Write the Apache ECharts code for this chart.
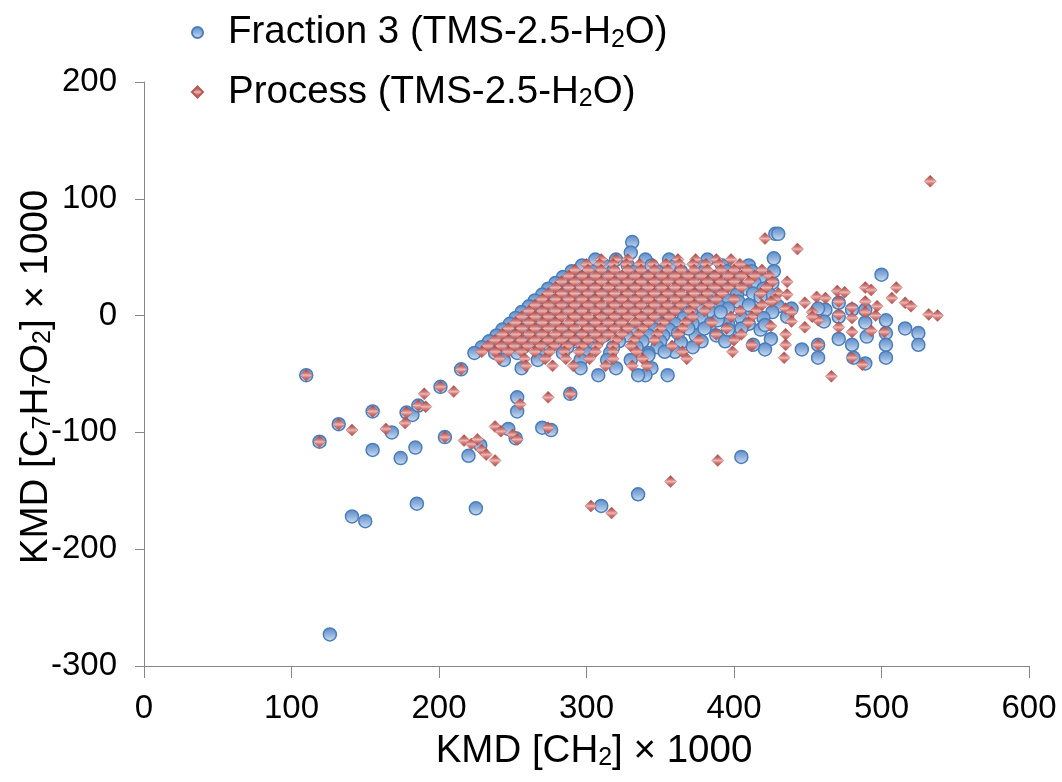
<!DOCTYPE html>
<html>
<head>
<meta charset="utf-8">
<script src="https://cdn.jsdelivr.net/npm/echarts@6/dist/echarts.min.js"></script>
<style>html,body{margin:0;padding:0;background:#fff}#c{width:1062px;height:782px}</style>
</head>
<body>
<div id="c"></div>
<script>
// ---- Data ----
const xTicks = [0, 100, 200, 300, 400, 500, 600];
const yTicks = [-300, -200, -100, 0, 100, 200];
const seriesNames = ['Fraction 3 (TMS-2.5-H2O)', 'Process (TMS-2.5-H2O)'];

// Fraction 3: dense cloud, rows of [KMD C7H7O2, [KMD CH2 values]]
const fractionRows = [
  [48, [306, 320, 340, 356, 382]],
  [43, [297, 312, 328, 344, 360, 376, 392, 410]],
  [38, [290, 304, 318, 333, 348, 364, 380, 395, 412]],
  [33, [284, 298, 312, 327, 342, 357, 372, 387, 402, 418]],
  [28, [279, 293, 307, 322, 337, 352, 367, 382, 397, 414, 426]],
  [23, [274, 288, 302, 317, 332, 347, 362, 377, 392, 408, 420]],
  [18, [270, 284, 298, 312, 327, 342, 357, 372, 387, 402, 424]],
  [13, [265, 279, 293, 307, 322, 337, 352, 367, 382, 396, 418]],
  [8, [261, 275, 289, 303, 318, 333, 348, 362, 376, 390, 430]],
  [3, [256, 270, 284, 298, 313, 328, 343, 357, 371, 384, 412, 426]],
  [-2, [252, 266, 280, 294, 309, 324, 339, 353, 366, 378, 405, 420]],
  [-7, [248, 262, 276, 290, 305, 320, 335, 349, 360, 372, 384, 396, 410]],
  [-12, [243, 257, 271, 286, 301, 316, 331, 346, 356, 418]],
  [-17, [239, 253, 267, 282, 297, 312, 327, 342, 352, 374, 388, 400]],
  [-22, [234, 248, 262, 277, 292, 307, 322, 338, 350, 378, 394]],
  [-27, [229, 243, 257, 272, 287, 302, 318, 334, 348, 372]],
  [-32, [224, 238, 253, 268, 284, 300, 316, 342]],
  [-38, [244, 267, 296, 314, 330]],
  [-45, [256, 296, 320, 344]],
  [-51, [308, 340]]
];
// Fraction 3: individual points [KMD CH2, KMD C7H7O2]
const fractionPoints = [
  [331, 63], [330, 54], [428, 70], [430, 70], [500, 35], [427, 49], [427, 38],
  [503, -4], [503, -15], [503, -25], [503, -36], [516, -11], [525, -15], [525, -25],
  [490, -18], [480, -25], [471, -20], [457, -25], [446, -29], [425, -20], [421, -29],
  [413, -25], [355, -51], [335, -51], [489, -41], [481, -36], [457, -36],
  [462, 5], [471, 11], [480, 5], [489, 5], [457, 6], [439, 6], [436, -1], [471, -1],
  [461, -5], [489, -6], [421, -8], [405, -11], [396, -12], [389, -4], [380, -11],
  [369, -11], [362, -15], [364, -23], [360, -31], [353, -31], [342, -34],
  [413, 19], [418, 16], [403, 12], [410, 9], [396, 6], [391, 3],
  [110, -51], [119, -108], [132, -93], [141, -172], [150, -176], [126, -273],
  [155, -82], [155, -115], [168, -100], [174, -122], [178, -83], [182, -85],
  [184, -113], [185, -161], [186, -77], [201, -61], [204, -104], [215, -46],
  [220, -120], [225, -165], [228, -111], [247, -97], [252, -105], [253, -70],
  [253, -82], [270, -96], [276, -98], [289, -67], [310, -163], [335, -153], [405, -121]
];

// Process: dense cloud rows
const processRows = [
  [48, [310, 320, 328, 362, 374, 388, 398]],
  [44, [300, 309, 318, 327, 336, 345, 354, 363, 372, 381, 390, 404]],
  [39, [292, 301, 310, 319, 328, 337, 346, 355, 364, 373, 382, 391, 400, 409, 419]],
  [34, [288, 297, 306, 315, 324, 333, 342, 351, 360, 369, 378, 387, 396, 405, 414, 424]],
  [29, [283, 292, 301, 310, 319, 328, 337, 346, 355, 364, 373, 382, 391, 400, 410, 426]],
  [24, [279, 288, 297, 306, 315, 324, 333, 342, 351, 360, 369, 378, 387, 396, 405, 422]],
  [19, [274, 283, 292, 301, 310, 319, 328, 337, 346, 355, 364, 373, 382, 392, 418, 430]],
  [14, [270, 279, 288, 297, 306, 315, 324, 333, 342, 351, 360, 369, 378, 388, 400, 428]],
  [9, [265, 274, 283, 292, 301, 310, 319, 328, 337, 346, 355, 364, 373, 383, 419]],
  [4, [261, 270, 279, 288, 297, 306, 315, 324, 333, 342, 351, 360, 370, 380, 404, 415]],
  [-1, [256, 265, 274, 283, 292, 301, 310, 319, 328, 337, 346, 356, 372, 398, 412]],
  [-6, [252, 261, 270, 279, 288, 297, 306, 315, 324, 333, 342, 352, 367, 385, 410]],
  [-11, [247, 256, 265, 274, 283, 292, 301, 310, 319, 328, 338, 350, 365, 395]],
  [-16, [243, 252, 261, 270, 279, 288, 297, 306, 315, 324, 335, 348, 362, 388, 405]],
  [-21, [238, 247, 256, 265, 274, 283, 292, 301, 310, 320, 332, 346, 376, 400]],
  [-26, [233, 242, 251, 260, 269, 278, 287, 297, 307, 318, 330, 358, 412]],
  [-31, [229, 238, 247, 256, 265, 275, 285, 295, 306, 318, 334, 365, 399]],
  [-37, [241, 258, 272, 286, 302, 318, 338, 368]],
  [-43, [259, 277, 291, 313, 331, 341]]
];
// Process: individual points
const processPoints = [
  [421, 66], [443, 57], [533, 115], [436, 29], [436, 18], [425, 12], [448, 11],
  [456, 16], [462, 15], [470, 21], [475, 20], [480, 7], [489, 24], [493, 22],
  [489, 12], [497, 8], [507, 15], [510, 24], [516, 11], [520, 8], [532, 1], [538, 0],
  [471, 12], [435, 6], [439, 3], [453, 3], [457, -4], [471, -10], [480, -14],
  [493, -13], [502, -14], [448, -10], [439, -5], [425, -9], [435, -16], [453, -1],
  [471, 1], [480, -2], [489, 3], [496, 0], [466, -52], [434, -36], [487, -42],
  [480, -36], [435, -25], [457, -25], [412, -25],
  [110, -51], [119, -108], [132, -93], [141, -98], [155, -82], [164, -97], [177, -92],
  [178, -83], [186, -77], [190, -67], [191, -78], [201, -61], [204, -104], [210, -65],
  [215, -46], [217, -107], [222, -110], [226, -106], [229, -115], [232, -119],
  [238, -124], [238, -95], [242, -99], [250, -102], [253, -106], [255, -76],
  [274, -96], [274, -70], [289, -67], [303, -163], [317, -169], [357, -142], [389, -124]
];

// ---- Build series data ----
function flatten(rows, pts) {
  const out = [];
  rows.forEach(function (r) { r[1].forEach(function (x) { out.push([x, r[0]]); }); });
  pts.forEach(function (p) { out.push(p); });
  return out;
}
const fractionData = flatten(fractionRows, fractionPoints);
const processData = flatten(processRows, processPoints);

const FONT = '"Liberation Sans", Arial, sans-serif';
const blueFill = {type: 'linear', x: 0, y: 0, x2: 0, y2: 1, colorStops: [
  {offset: 0, color: '#5a8ac6'}, {offset: 0.5, color: '#8fb1dc'}, {offset: 1, color: '#d4e2f4'}]};
const redFill = {type: 'linear', x: 0, y: 0, x2: 0, y2: 1, colorStops: [
  {offset: 0, color: '#963a37'}, {offset: 0.35, color: '#d27c79'}, {offset: 0.5, color: '#ebb6b4'},
  {offset: 0.7, color: '#cf7471'}, {offset: 1, color: '#b04845'}]};

const richTitle = {
  a: {fontSize: 38.5, lineHeight: 40, fontFamily: FONT, color: '#000'},
  s: {fontSize: 25, lineHeight: 16, verticalAlign: 'bottom', fontFamily: FONT, color: '#000'}
};
const richLegend = {
  sp: {width: 20},
  a: {fontSize: 38.5, lineHeight: 40, fontFamily: FONT, color: '#000'},
  s: {fontSize: 25, lineHeight: 16, verticalAlign: 'bottom', fontFamily: FONT, color: '#000'}
};

const chart = echarts.init(document.getElementById('c'), null, {renderer: 'canvas'});
chart.setOption({
  animation: false,
  backgroundColor: '#fff',
  grid: {left: 144, right: 33, top: 82, bottom: 116, containLabel: false},
  legend: {
    orient: 'vertical', left: 186, top: 8, itemGap: 20,
    itemWidth: 11, itemHeight: 11,
    data: seriesNames,
    formatter: function (n) {
      return '{sp|}{a|' + n.replace('H2O)', 'H}{s|2}{a|O)') + '}';
    },
    textStyle: {rich: richLegend}
  },
  xAxis: {
    type: 'value', min: xTicks[0], max: xTicks[xTicks.length - 1], interval: 100,
    axisLine: {show: true, onZero: false, lineStyle: {color: '#868686', width: 1}},
    axisTick: {show: true, length: 12, lineStyle: {color: '#868686'}},
    splitLine: {show: false},
    axisLabel: {fontSize: 33, margin: 26, color: '#000', fontFamily: FONT}
  },
  yAxis: {
    type: 'value', min: yTicks[0], max: yTicks[yTicks.length - 1], interval: 100,
    axisLine: {show: true, onZero: false, lineStyle: {color: '#868686', width: 1}},
    axisTick: {show: true, length: 9, lineStyle: {color: '#868686'}},
    splitLine: {show: false},
    axisLabel: {fontSize: 33, margin: 27, color: '#000', fontFamily: FONT}
  },
  graphic: [
    {type: 'text', x: 594, y: 751, style: {
      text: '{a|KMD [CH}{s|2}{a|] × 1000}', rich: richTitle, align: 'center', verticalAlign: 'middle'}},
    {type: 'text', x: 36, y: 377, rotation: Math.PI / 2, style: {
      text: '{a|KMD [C}{s|7}{a|H}{s|7}{a|O}{s|2}{a|] × 1000}', rich: richTitle, align: 'center', verticalAlign: 'middle'}}
  ],
  series: [
    {
      name: seriesNames[0], type: 'scatter', symbol: 'circle', symbolSize: 13,
      data: fractionData,
      itemStyle: {color: blueFill, borderColor: '#4a7ebb', borderWidth: 1.5, opacity: 1}
    },
    {
      name: seriesNames[1], type: 'scatter', symbol: 'diamond', symbolSize: 12,
      data: processData,
      itemStyle: {color: redFill, borderColor: '#b55a57', borderWidth: 0.5, opacity: 1}
    }
  ]
});
</script>
</body>
</html>
